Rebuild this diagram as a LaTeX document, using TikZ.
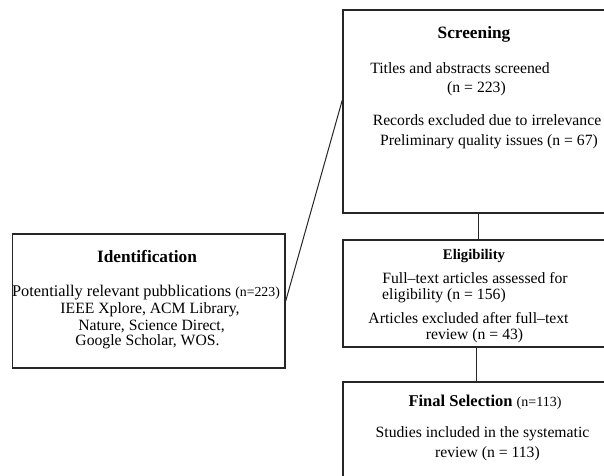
\documentclass[tikz,border=0pt]{standalone}
\usepackage{fontspec}
\setmainfont{Liberation Serif}
\begin{document}
\begin{tikzpicture}[x=1pt,y=-1pt,
  box/.style={draw=black!85,line width=1.4pt,rectangle,inner sep=0pt,fill=none},
  conn/.style={draw=black!85,line width=1pt},
  txt/.style={anchor=base,inner sep=0pt,font=\fontsize{15.7}{19}\selectfont},
  ttl/.style={anchor=base,inner sep=0pt,font=\fontsize{17.3}{20}\selectfont\bfseries}]
\useasboundingbox (0,0) rectangle (604,475);
% boxes
\node[box,minimum width=297pt,minimum height=203pt] (scr) at (491.5,111.5) {};
\node[box,minimum width=297pt,minimum height=107pt] (eli) at (491.5,293.5) {};
\node[box,minimum width=297pt,minimum height=118pt] (fin) at (491.5,441) {};
\node[box,minimum width=272.5pt,minimum height=134pt] (ide) at (148.75,301) {};
% connectors
\draw[conn] (ide.east) -- ([yshift=11.5pt]scr.west);
\draw[conn] ([xshift=-13.5pt]scr.south) -- ([xshift=-13.5pt]eli.north);
\draw[conn] ([xshift=-15.5pt]eli.south) -- ([xshift=-15.5pt]fin.north);
% screening texts
\node[ttl] (s0) at (474,38) {Screening};
\node[txt] (s1) at (460,73) {Titles and abstracts screened};
\node[txt] (s2) at (476.5,92) {(n = 223)};
\node[txt] (s3) at (487,125) {Records excluded due to irrelevance};
\node[txt] (s4) at (489,145) {Preliminary quality issues (n = 67)};
% eligibility texts
\node[ttl,font=\fontsize{14.7}{17}\selectfont\bfseries] (e0) at (474,259) {Eligibility};
\node[txt] (e1) at (475,283) {Full–text articles assessed for};
\node[txt,anchor=base west] (e2) at (382,299) {eligibility (n = 156)};
\node[txt] (e3) at (468.5,323) {Articles excluded after full–text};
\node[txt] (e4) at (474.5,339) {review (n = 43)};
% final texts
\node[anchor=base,inner sep=0pt] (f0) at (485,406) {\fontsize{16.5}{18}\selectfont\bfseries Final Selection \fontsize{14}{16}\selectfont\mdseries(n=113)};
\node[txt] (f1) at (482.5,437) {Studies included in the systematic};
\node[txt] (f2) at (487.5,457) {review (n = 113)};
% identification texts
\node[ttl] (i0) at (147,262) {Identification};
\node[anchor=base,inner sep=0pt] (i1) at (146,296) {\fontsize{16.3}{19}\selectfont Potentially relevant pubblications {\fontsize{13.8}{16}\selectfont(n=223)}};
\node[txt] (i2) at (150,313) {IEEE Xplore, ACM Library,};
\node[txt] (i3) at (151.5,330) {Nature, Science Direct,};
\node[txt] (i4) at (147.5,345) {Google Scholar, WOS.};
\end{tikzpicture}
\end{document}
